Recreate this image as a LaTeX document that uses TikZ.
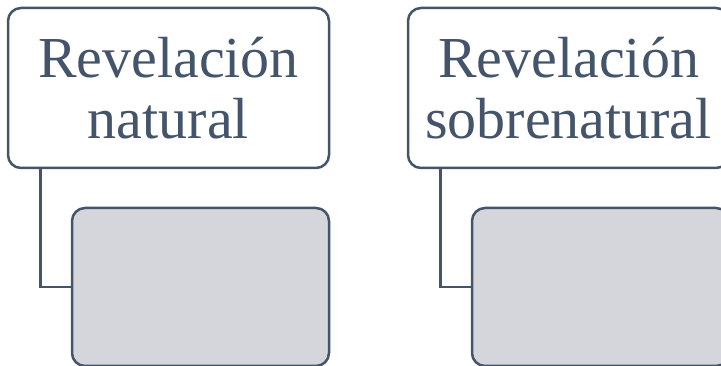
\documentclass[tikz,border=0pt]{standalone}
\usepackage{fontspec}
\setmainfont{Liberation Serif}
\definecolor{edge}{RGB}{68,84,106}
\definecolor{grayfill}{RGB}{212,214,219}
\begin{document}
\begin{tikzpicture}[x=1pt,y=-1pt,
  topbox/.style={draw=edge, line width=2.5pt, fill=white, rounded corners=13pt,
    minimum width=321pt, minimum height=160pt, inner sep=0pt, align=center,
    text=edge, font=\fontsize{58}{61}\selectfont},
  subbox/.style={draw=edge, line width=2.5pt, fill=grayfill, rounded corners=13pt,
    minimum width=257pt, minimum height=158pt, inner sep=0pt},
  link/.style={draw=edge, line width=2.5pt}]
\useasboundingbox (0,0) rectangle (721,366);
\clip (0,0) rectangle (721,366);
\node[topbox] (t1) at (168.5,88) {Revelación\\natural};
\node[topbox] (t2) at (568.5,88) {Revelación\\sobrenatural};
\node[subbox] (g1) at (200.5,287) {};
\node[subbox] (g2) at (600.5,287) {};
\coordinate (c1) at (40.5,168);
\coordinate (c2) at (440.5,168);
\draw[link] (c1) |- (g1.west);
\draw[link] (c2) |- (g2.west);
\end{tikzpicture}
\end{document}
